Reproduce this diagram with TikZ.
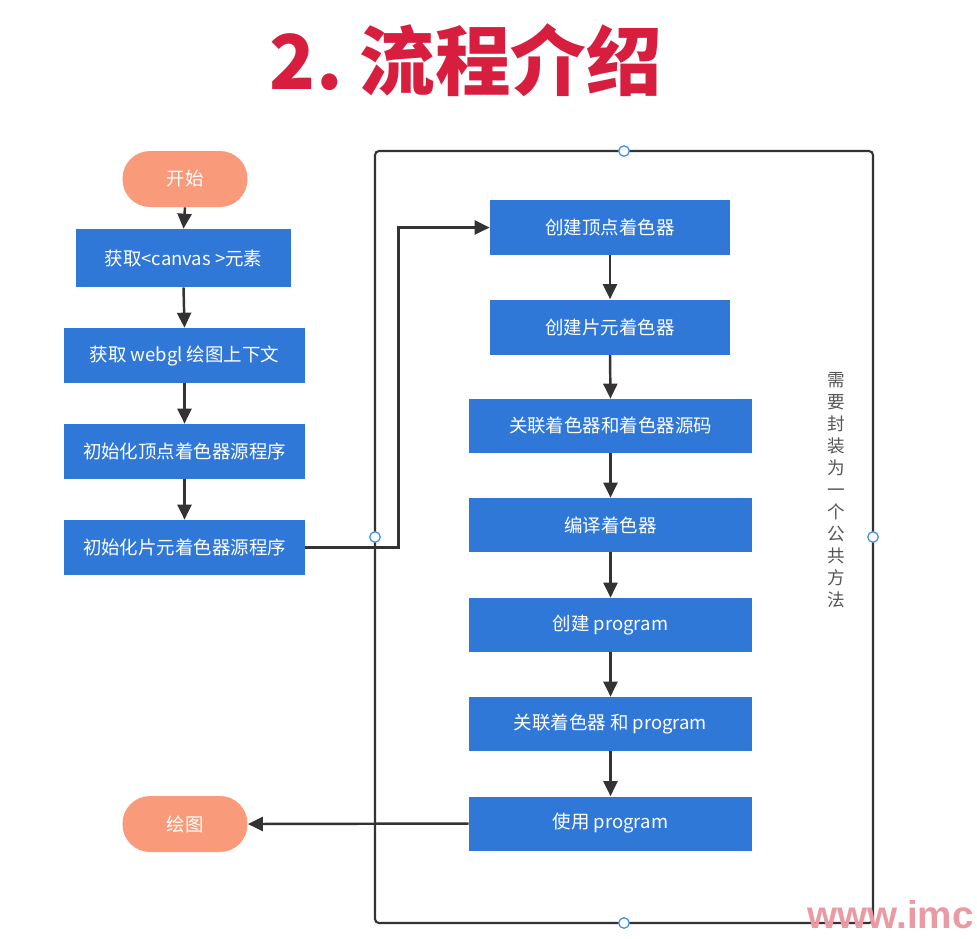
\documentclass[tikz,border=0pt]{standalone}
\usepackage{fontspec}
\setmainfont{Noto Sans CJK SC}
\newfontfamily\wmfont{Liberation Sans}
\usetikzlibrary{arrows.meta}
\definecolor{boxblue}{HTML}{2F78D8}
\definecolor{pill}{HTML}{F99A7A}
\definecolor{titlered}{HTML}{D81E3F}
\definecolor{linegray}{HTML}{333333}
\definecolor{notegray}{HTML}{555555}
\definecolor{dotblue}{HTML}{3A8EE6}
\definecolor{wm}{HTML}{EB9AA3}
\tikzset{
  bluebox/.style={draw=none,fill=boxblue,text=white,inner sep=0pt,font=\fontsize{10.5}{12}\selectfont},
  pillbox/.style={draw=none,fill=pill,text=white,inner sep=0pt,minimum width=2.5cm,minimum height=1.12cm,rounded corners=0.55cm,font=\fontsize{10.5}{12}\selectfont},
  arr/.style={draw=linegray,line width=1.4pt,-{Triangle[length=0.3cm,width=0.28cm]}},
  frame/.style={draw=linegray,line width=1.2pt,rounded corners=0.08cm},
  handle/.style={circle,draw=dotblue,fill=white,line width=0.7pt,inner sep=0pt,minimum size=0.21cm}
}
\begin{document}
\begin{tikzpicture}[x=0.02cm,y=-0.02cm]
\useasboundingbox (0,0) rectangle (977,938);
% title
\node[text=titlered,font=\fontsize{43}{50}\selectfont\bfseries] (title) at (466,60) {2.\ 流程介绍};
% left column
\node[pillbox] (start) at (185,179) {开始};
\node[bluebox,minimum width=4.3cm,minimum height=1.16cm] (b1) at (183.5,258) {获取<canvas >元素};
\node[bluebox,minimum width=4.82cm,minimum height=1.1cm] (b2) at (184.5,355.5) {获取 webgl 绘图上下文};
\node[bluebox,minimum width=4.82cm,minimum height=1.1cm] (b3) at (184.5,451.5) {初始化顶点着色器源程序};
\node[bluebox,minimum width=4.82cm,minimum height=1.1cm] (b4) at (184.5,547.5) {初始化片元着色器源程序};
\node[pillbox] (draw) at (185,824) {绘图};
% frame
\draw[frame] (375,151) rectangle (873,923);
% right column
\node[bluebox,minimum width=4.8cm,minimum height=1.1cm] (r1) at (610,227.5) {创建顶点着色器};
\node[bluebox,minimum width=4.8cm,minimum height=1.1cm] (r2) at (610,327) {创建片元着色器};
\node[bluebox,minimum width=5.66cm,minimum height=1.08cm] (r3) at (610.5,426) {关联着色器和着色器源码};
\node[bluebox,minimum width=5.66cm,minimum height=1.08cm] (r4) at (610.5,525) {编译着色器};
\node[bluebox,minimum width=5.66cm,minimum height=1.08cm] (r5) at (610.5,625) {创建 program};
\node[bluebox,minimum width=5.66cm,minimum height=1.08cm] (r6) at (610.5,724) {关联着色器 和 program};
\node[bluebox,minimum width=5.66cm,minimum height=1.08cm] (r7) at (610.5,823.5) {使用 program};
% vertical note
\node[text=notegray,align=center,font=\fontsize{10}{12.5}\selectfont] (note) at (836,490)
  {需\\要\\封\\装\\为\\一\\个\\公\\共\\方\\法};
% arrows
\draw[arr] (start.south) -- (b1.north);
\draw[arr] (b1.south) -- (b2.north);
\draw[arr] (b2.south) -- (b3.north);
\draw[arr] (b3.south) -- (b4.north);
\draw[arr] (b4.east) -- ++(93,0) |- (r1.west);
\draw[arr] (r1.south) -- (r2.north);
\draw[arr] (r2.south) -- (r3.north);
\draw[arr] (r3.south) -- (r4.north);
\draw[arr] (r4.south) -- (r5.north);
\draw[arr] (r5.south) -- (r6.north);
\draw[arr] (r6.south) -- (r7.north);
\draw[arr] (r7.west) -- (draw.east);
% frame handles
\node[handle] (h1) at (624,151) {};
\node[handle] (h2) at (375,537) {};
\node[handle] (h3) at (873,537) {};
\node[handle] (h4) at (624,923) {};
% watermark
\node[anchor=base east,text=wm,inner sep=0pt,font=\wmfont\fontsize{22}{26}\selectfont\bfseries] (wmark) at (974,928) {www.imc};
\end{tikzpicture}
\end{document}
